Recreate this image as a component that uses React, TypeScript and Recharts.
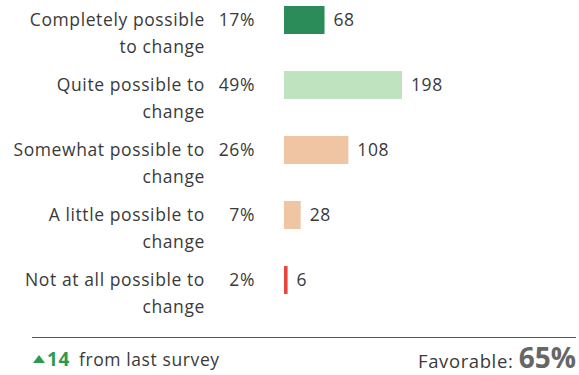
import React from "react";
import { BarChart, Bar, XAxis, YAxis, Cell, LabelList } from "recharts";

const categories = [
  ["Completely possible", "to change"],
  ["Quite possible to", "change"],
  ["Somewhat possible to", "change"],
  ["A little possible to", "change"],
  ["Not at all possible to", "change"],
];
const percents = ["17%", "49%", "26%", "7%", "2%"];
const counts = [68, 198, 108, 28, 6];
const barColors = ["#2b8c5a", "#bfe3bf", "#f0c5a3", "#f0c5a3", "#e8443a"];

const data = categories.map((lines, i) => ({
  name: String(i),
  lines,
  pct: percents[i],
  count: counts[i],
}));

const FONT = "'Open Sans', sans-serif";
const TEXT = "#3a3a3a";
const GREEN = "#2e9a4e";
const FS = 17.5;
const LS = 0.6;

const CategoryTick = (props: any) => {
  const { y, payload } = props;
  const row = data[Number(payload.value)];
  const common = { fill: TEXT, fontSize: FS, fontFamily: FONT, letterSpacing: LS, textAnchor: "end" as const };
  return (
    <g>
      <text x={205} y={y} dy={6} {...common}>
        {row.lines[0]}
      </text>
      <text x={205} y={y + 27} dy={6} {...common}>
        {row.lines[1]}
      </text>
      <text x={255} y={y} dy={6} {...common}>
        {row.pct}
      </text>
    </g>
  );
};

const App = () => {
  return (
    <div style={{ position: "absolute", left: 0, top: 0, width: 579, height: 375, background: "#fff" }}>
      <BarChart
        width={579}
        height={332}
        layout="vertical"
        data={data}
        margin={{ top: -13, right: 0, left: 0, bottom: 20 }}
        barSize={28}
      >
        <XAxis type="number" domain={[0, 495]} hide />
        <YAxis
          type="category"
          dataKey="name"
          width={284}
          axisLine={false}
          tickLine={false}
          tick={<CategoryTick />}
        />
        <Bar dataKey="count" isAnimationActive={false}>
          {data.map((d, i) => (
            <Cell key={d.name} fill={barColors[i]} />
          ))}
          <LabelList
            dataKey="count"
            position="right"
            offset={9}
            fill={TEXT}
            fontSize={FS}
            fontFamily={FONT}
            letterSpacing={LS}
          />
        </Bar>
      </BarChart>
      <div
        style={{
          position: "absolute",
          left: 32,
          top: 337,
          width: 544,
          borderTop: "1px solid #555",
        }}
      />
      {/* up arrow */}
      <div
        style={{
          position: "absolute",
          left: 33,
          top: 355,
          width: 0,
          height: 0,
          borderLeft: "6px solid transparent",
          borderRight: "6px solid transparent",
          borderBottom: `8px solid ${GREEN}`,
        }}
      />
      <div
        style={{
          position: "absolute",
          left: 47,
          top: 346,
          fontFamily: FONT,
          fontSize: FS,
          letterSpacing: LS,
          color: TEXT,
          whiteSpace: "nowrap",
        }}
      >
        <span style={{ color: GREEN, fontWeight: 700, fontSize: 19 }}>14</span>
        <span style={{ marginLeft: 9 }}>from last survey</span>
      </div>
      <div
        style={{
          position: "absolute",
          right: 3,
          top: 338,
          fontFamily: FONT,
          color: TEXT,
          letterSpacing: LS,
          whiteSpace: "nowrap",
        }}
      >
        <span style={{ fontSize: 18.5 }}>Favorable: </span>
        <span style={{ fontSize: 28, fontWeight: 700, color: "#666", letterSpacing: 0 }}>65%</span>
      </div>
    </div>
  );
};

export default App;
